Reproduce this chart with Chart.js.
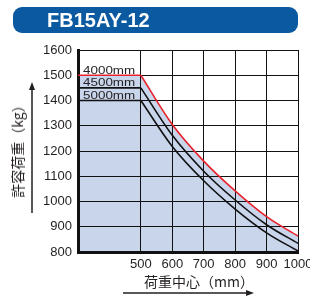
<!DOCTYPE html>
<html lang="ja">
<head>
<meta charset="UTF-8">
<title>FB15AY-12</title>
<style>
    body { margin: 0; background: #fff; font-family: 'Liberation Sans', Arial, sans-serif; }
    .wrap { position: relative; width: 310px; height: 296px; overflow: hidden; }
    .title-bar {
        position: absolute; left: 13px; top: 7px; width: 285px; height: 26px;
        background: #0a59a1; border-radius: 9px; color: #fff;
        font-weight: bold; font-size: 20px; line-height: 26px;
        padding-left: 34px; box-sizing: border-box;
    }
    .y-title, .x-title {
        position: absolute; white-space: nowrap; color: #231f20;
        font-family: 'Noto Sans CJK JP', sans-serif; font-size: 14px; line-height: 16px;
    }
    .y-title { left: 17px; top: 148px; transform: translate(-50%, -50%) rotate(-90deg); }
    .x-title { left: 199px; top: 281px; transform: translate(-50%, -50%); }
    canvas { position: absolute; left: 0; top: 0; }
</style>
<script src="https://cdn.jsdelivr.net/npm/chart.js"></script>
</head>
<body>
<div class="wrap">
    <canvas id="chart" width="310" height="296"></canvas>
    <div class="title-bar">FB15AY-12</div>
    <div class="y-title">許容荷重（kg）</div>
    <div class="x-title">荷重中心（mm）</div>
</div>
<script>
    // load centre (mm)
    const loadCenters = [300, 500, 600, 700, 800, 900, 1000];
    // allowable load (kg) per lift height
    const load4000 = [1500, 1500, 1305, 1160, 1042, 940, 863];
    const load4500 = [1450, 1450, 1262, 1120, 1006, 908, 834];
    const load5000 = [1400, 1400, 1218, 1082, 970, 876, 804];
    const liftLabels = ['4000mm', '4500mm', '5000mm'];
    const xTicks = [500, 600, 700, 800, 900, 1000];

    const RED = '#e8232b';
    const FILL = '#c9d5eb';
    const tickFont = { family: '"Liberation Sans", Arial', size: 13 };

    const pts = (arr, from, to) =>
        loadCenters.slice(from, to).map((x, i) => ({ x: x, y: arr[from + i] }));

    function series(arr, color, fill) {
        const base = {
            borderColor: color, borderWidth: 1.6, pointRadius: 0,
            backgroundColor: FILL, fill: fill ? 'start' : false
        };
        return [
            Object.assign({ data: pts(arr, 0, 2), tension: 0 }, base),
            Object.assign({ data: pts(arr, 1), cubicInterpolationMode: 'monotone' }, base)
        ];
    }

    const labelPlugin = {
        id: 'extras',
        afterDatasetsDraw(chart) {
            const { ctx, scales: { x, y } } = chart;
            ctx.save();
            ctx.fillStyle = '#231f20';
            ctx.font = '11px "Liberation Sans", Arial, sans-serif';
            [load4000, load4500, load5000].forEach((arr, i) => {
                const px = x.getPixelForValue(loadCenters[0]) + 5;
                const py = y.getPixelForValue(arr[0]) - 1.5;
                ctx.save();
                ctx.translate(px, py);
                ctx.scale(1.22, 1);
                ctx.fillText(liftLabels[i], 0, 0);
                ctx.restore();
            });
            ctx.restore();
        },
        afterDraw(chart) {
            const ctx = chart.ctx;
            ctx.save();
            ctx.strokeStyle = '#231f20';
            ctx.fillStyle = '#231f20';
            ctx.lineWidth = 1.5;
            // y arrow
            ctx.beginPath(); ctx.moveTo(32, 213); ctx.lineTo(32, 88); ctx.stroke();
            ctx.beginPath(); ctx.moveTo(32, 82); ctx.lineTo(29, 90); ctx.lineTo(35, 90); ctx.closePath(); ctx.fill();
            // x arrow
            ctx.beginPath(); ctx.moveTo(123, 293); ctx.lineTo(248, 293); ctx.stroke();
            ctx.beginPath(); ctx.moveTo(254, 293); ctx.lineTo(246, 290); ctx.lineTo(246, 296); ctx.closePath(); ctx.fill();
            ctx.restore();
        }
    };

    new Chart(document.getElementById('chart'), {
        type: 'line',
        data: {
            datasets: [
                ...series(load4000, RED, true),
                ...series(load4500, '#111', false),
                ...series(load5000, '#111', false)
            ]
        },
        options: {
            responsive: false,
            animation: false,
            layout: { padding: { top: 50, right: 12, bottom: 22, left: 0 } },
            plugins: {
                legend: { display: false },
                tooltip: { enabled: false },
                filler: { drawTime: 'beforeDraw' }
            },
            scales: {
                x: {
                    type: 'linear', min: 300, max: 1000,
                    afterBuildTicks: s => { s.ticks = xTicks.map(v => ({ value: v })); },
                    afterFit: s => { s.height = 22; s.paddingLeft = 0; s.paddingRight = 0; },
                    grid: { color: '#111', lineWidth: 1, drawTicks: false },
                    border: { color: '#111', width: 3 },
                    ticks: { color: '#231f20', padding: 5, maxRotation: 0, autoSkip: false,
                             font: tickFont, callback: v => String(v) }
                },
                y: {
                    min: 800, max: 1600,
                    afterFit: s => { s.width = 78; s.paddingTop = 0; s.paddingBottom = 0; },
                    grid: { color: '#111', lineWidth: 1, drawTicks: false },
                    border: { color: '#111', width: 3 },
                    ticks: { stepSize: 100, color: '#231f20', padding: 6,
                             font: tickFont, callback: v => String(v) }
                }
            }
        },
        plugins: [labelPlugin]
    });
</script>
</body>
</html>
